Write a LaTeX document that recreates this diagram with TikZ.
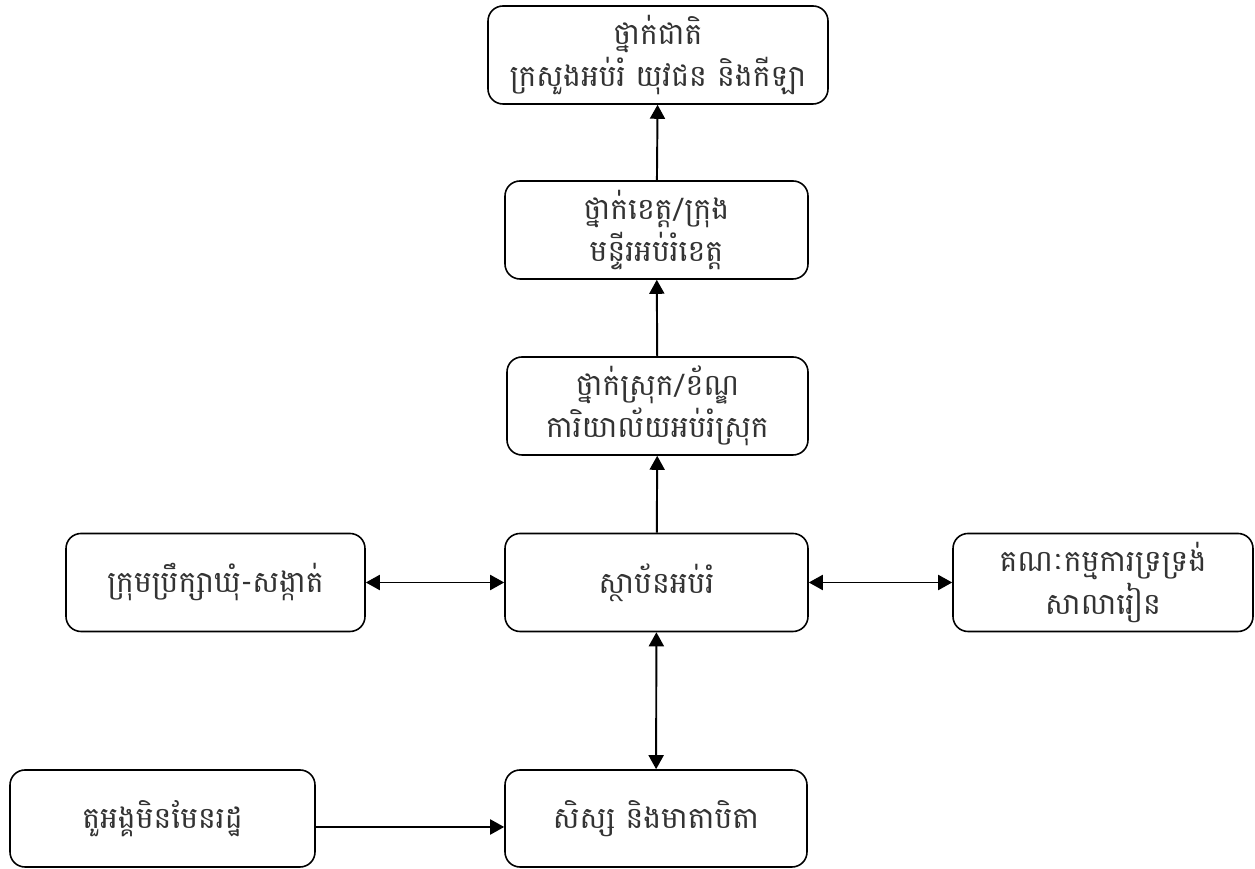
\documentclass[tikz,border=0pt]{standalone}
\usepackage{fontspec}
\newfontfamily\khmerfont[Script=Khmer]{Battambang}
\usetikzlibrary{arrows.meta}

\tikzset{
  unit/.style={draw, line width=0.9pt, rounded corners=0.3cm, align=center,
    minimum height=1.96cm, inner sep=2pt, text=black!80,
    font=\khmerfont\fontsize{17}{24}\selectfont},
  link/.style={line width=1.1pt, -{Triangle[length=0.28cm,width=0.3cm]}},
  duplex/.style={line width=1.1pt, {Triangle[length=0.28cm,width=0.3cm]}-{Triangle[length=0.28cm,width=0.3cm]}}
}

\begin{document}
\begin{tikzpicture}
      \useasboundingbox (0,0) rectangle (25.1,17.38);

      % Boxes (chain upwards)
      \node[unit, minimum width=6.8cm] (national) at (13.16,16.28)
        {ថ្នាក់ជាតិ\\ក្រសួងអប់រំ យុវជន និងកីឡា};
      \node[unit, minimum width=6.06cm] (province) at (13.13,12.78)
        {ថ្នាក់ខេត្ត/ក្រុង\\មន្ទីរអប់រំខេត្ត};
      \node[unit, minimum width=6.02cm] (district) at (13.15,9.26)
        {ថ្នាក់ស្រុក/ខ័ណ្ឌ\\ការិយាល័យអប់រំស្រុក};

      % Boxes (middle row)
      \node[unit, minimum width=6.06cm] (school) at (13.13,5.73) {ស្ថាប័នអប់រំ};
      \node[unit, minimum width=5.98cm] (commune) at (4.31,5.73)
        {ក្រុមប្រឹក្សាឃុំ-សង្កាត់};
      \node[unit, minimum width=6.0cm] (support) at (22.06,5.73)
        {គណៈកម្មការទ្រទ្រង់\\សាលារៀន};

      % Boxes (bottom row)
      \node[unit, minimum width=6.04cm, minimum height=1.94cm] (pupils) at (13.12,1.01)
        {សិស្ស និងមាតាបិតា};
      \node[unit, minimum width=6.1cm, minimum height=1.94cm] (nonstate) at (3.25,1.01)
        {តួអង្គមិនមែនរដ្ឋ};

      % Arcs (upwards)
      \draw[link] (province) -- (national);
      \draw[link] (district) -- (province);
      \draw[link] (school) -- (district);

      % Arcs (both ways)
      \draw[duplex] (commune) -- (school);
      \draw[duplex] (school) -- (support);
      \draw[duplex] (school) -- (pupils);

      \draw[link] ([yshift=-0.17cm]nonstate.east) -- ([yshift=-0.17cm]nonstate.east -| pupils.west);
\end{tikzpicture}
\end{document}
